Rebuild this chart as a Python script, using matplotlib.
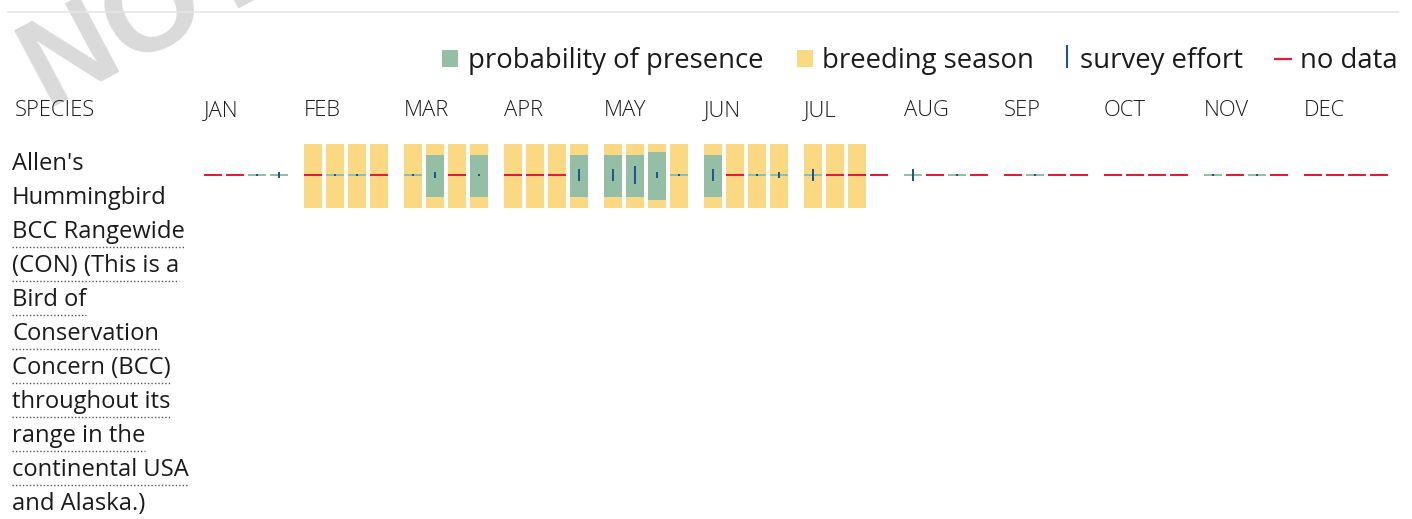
import matplotlib
matplotlib.use("Agg")
import matplotlib.pyplot as plt

# ---------------- data ----------------
months = ["JAN", "FEB", "MAR", "APR", "MAY", "JUN",
          "JUL", "AUG", "SEP", "OCT", "NOV", "DEC"]
species_lines = ["Allen's", "Hummingbird", "BCC Rangewide", "(CON) (This is a",
                 "Bird of", "Conservation", "Concern (BCC)", "throughout its",
                 "range in the", "continental USA", "and Alaska.)"]
species_underlined = [False, False, True, True, True, True, True, True,
                      True, True, False]
# 48 weekly slots (4 per month); None = no data
probability = [None, None, 0, 0,
               None, 0, 0, None,
               0, 0.66, None, 0.66,
               None, None, None, 0.66,
               0.66, 0.66, 0.75, 0,
               0.66, None, 0, 0,
               0, None, None, None,
               0, None, 0, None,
               None, 0, None, None,
               None, None, None, None,
               0, None, 0, None,
               None, None, None, None]
survey_effort = [0, 0, 0.03, 0.09,
                 0, 0.03, 0.03, 0,
                 0.03, 0.09, 0, 0.03,
                 0, 0, 0, 0.19,
                 0.19, 0.28, 0.09, 0.03,
                 0.19, 0, 0.03, 0.09,
                 0.19, 0, 0, 0,
                 0.19, 0, 0.03, 0,
                 0, 0.03, 0, 0,
                 0, 0, 0, 0,
                 0.03, 0, 0.03, 0,
                 0, 0, 0, 0]
breeding = [False] * 4 + [True] * 23 + [False] * 21
legend_labels = ["probability of presence", "breeding season",
                 "survey effort", "no data"]

# ---------------- style ----------------
GREEN = "#95bfa5"
YELLOW = "#fbd982"
RED = "#e31c3d"
BLUE = "#205493"
TEXT = "#1b1b1b"
FONT = "Open Sans"

W, H = 1412, 519
fig = plt.figure(figsize=(W / 100, H / 100), dpi=100)
ax = fig.add_axes([0, 0, 1, 1])
ax.set_xlim(0, W)
ax.set_ylim(H, 0)
ax.axis("off")

# layout (pixels)
X0, MONTH_W, WEEK_W, BAR_W = 204, 100, 22, 18
ROW_Y, BAR_H, LINE_H = 176, 64, 2.2


def week_x(i):
    return X0 + (i // 4) * MONTH_W + (i % 4) * WEEK_W


xs = [week_x(i) for i in range(48)]

# watermark
ax.text(48, 110, "NOT FOR CONSULTATION", fontsize=90, color="#dadada",
        fontweight="bold", rotation=28, rotation_mode="anchor",
        ha="left", va="baseline", family="Liberation Sans", zorder=0,
        clip_on=True)

# top rule
ax.plot([8, 1398], [12, 12], color="#e6e6e6", lw=1.2, zorder=1)

# breeding season
bx = [x for x, b in zip(xs, breeding) if b]
ax.bar(bx, BAR_H, width=BAR_W, bottom=ROW_Y - BAR_H / 2, align="edge",
       color=YELLOW, linewidth=0, zorder=2)

# probability of presence / no data
for x, p in zip(xs, probability):
    if p is None:
        ax.bar(x, LINE_H, width=BAR_W, bottom=ROW_Y - 1 - LINE_H / 2,
               align="edge", color=RED, linewidth=0, zorder=3)
    elif p == 0:
        ax.bar(x, LINE_H, width=BAR_W, bottom=ROW_Y - 1 - LINE_H / 2,
               align="edge", color=GREEN, linewidth=0, zorder=3)
    else:
        h = p * BAR_H
        ax.bar(x, h, width=BAR_W, bottom=ROW_Y - h / 2, align="edge",
               color=GREEN, linewidth=0, zorder=3)

# survey effort
for x, e in zip(xs, survey_effort):
    if e > 0:
        h = max(e * BAR_H, 2.2)
        ax.bar(x + BAR_W / 2 - 1.1, h, width=2.2, bottom=ROW_Y - 1 - h / 2,
               align="edge", color=BLUE, linewidth=0, zorder=4)

# header
ax.text(15, 116, "SPECIES", fontsize=15.8, fontweight="light", color=TEXT,
        family=FONT, ha="left", va="baseline")
for m, name in enumerate(months):
    ax.text(X0 + m * MONTH_W, 116, name, fontsize=15.8, fontweight="light",
            color=TEXT, family=FONT, ha="left", va="baseline")

# legend
LEG_BASE = 68
ax.bar(442, 17, width=16, bottom=50, align="edge", color=GREEN, linewidth=0)
ax.bar(797, 17, width=16, bottom=50, align="edge", color=YELLOW, linewidth=0)
ax.plot([1067, 1067], [45, 68], color=BLUE, lw=1.5, solid_capstyle="butt")
ax.plot([1274, 1292], [59, 59], color=RED, lw=1.6, solid_capstyle="butt")
for lx, lab in zip([468, 822, 1080, 1300], legend_labels):
    ax.text(lx, LEG_BASE, lab, fontsize=19.8, color=TEXT, family=FONT,
            ha="left", va="baseline")

# species name
texts = []
for k, line in enumerate(species_lines):
    t = ax.text(12, 170 + 34 * k, line, fontsize=17.1, color=TEXT,
                family=FONT, ha="left", va="baseline")
    texts.append(t)

fig.canvas.draw()
r = fig.canvas.get_renderer()
inv = ax.transData.inverted()
for t, ul, k in zip(texts, species_underlined, range(len(texts))):
    if ul:
        bb = t.get_window_extent(r)
        (x1, _), (x2, _) = inv.transform([[bb.x0, bb.y0], [bb.x1, bb.y0]])
        y = 170 + 34 * k + 9
        ax.plot([x1, x2], [y, y], color="#555555", lw=1.0,
                linestyle=(0, (1, 1.5)))

fig.savefig("out.png", dpi=100)
